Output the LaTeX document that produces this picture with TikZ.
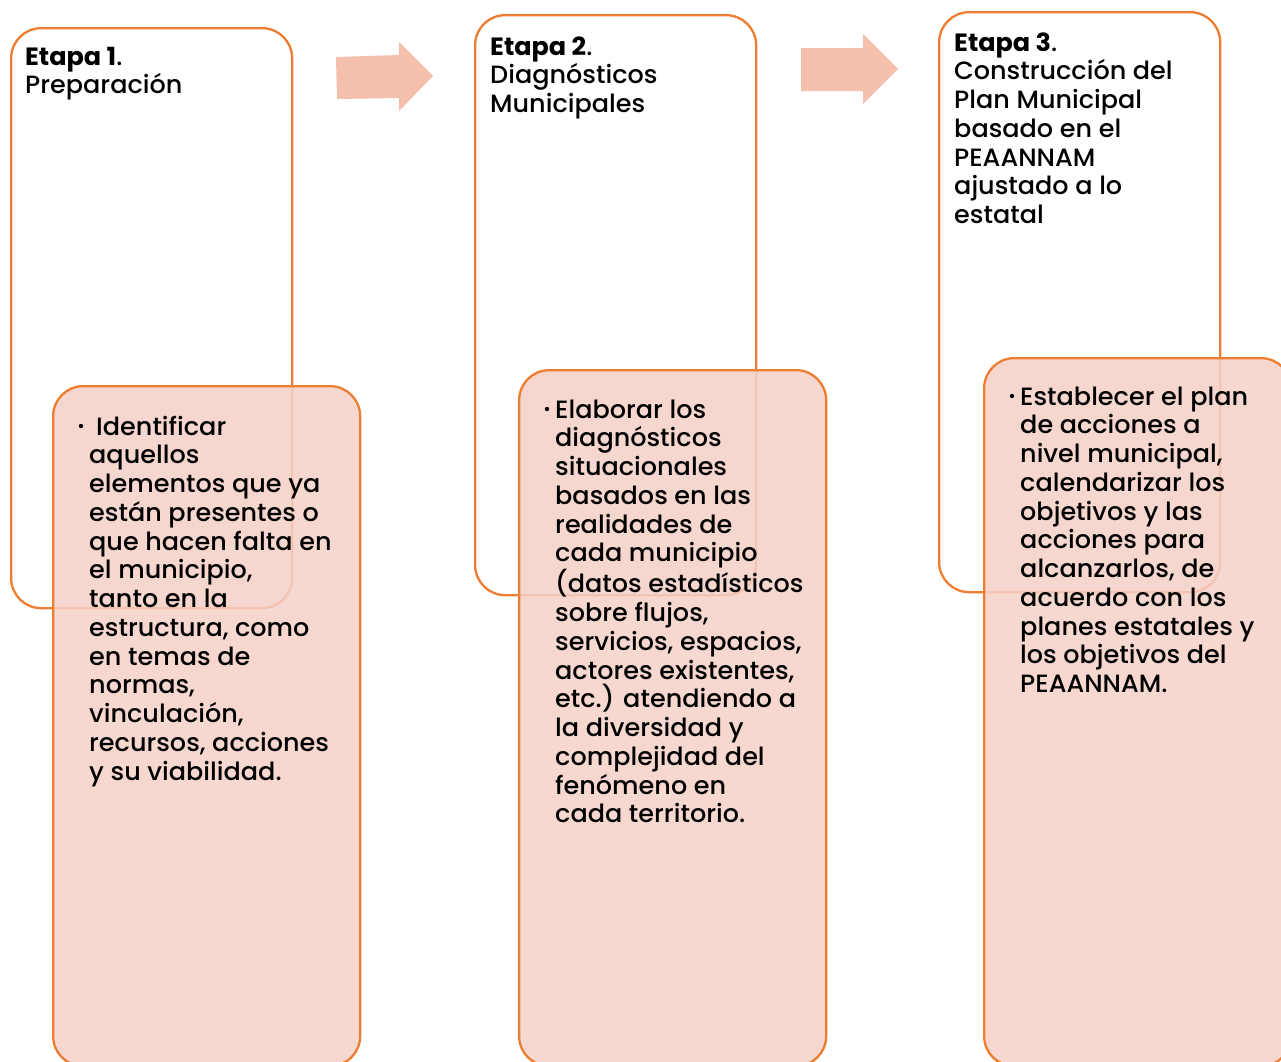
\documentclass[tikz,border=0pt]{standalone}
\usepackage{fontspec}
\setmainfont{Poppins}[UprightFont=* Medium, BoldFont=* Bold, FakeStretch=1.02]
\definecolor{edgeorange}{HTML}{ED7D31}
\definecolor{pinkfill}{HTML}{F5D1C8}
\definecolor{arrowpink}{HTML}{F4BFAD}
\newcommand{\bul}{\llap{\raisebox{7pt}{\tikz\fill (0,0) circle (2.2pt);}\hspace{6pt}}}
\begin{document}
\begin{tikzpicture}[x=1pt,y=-1pt,
  stagebox/.style={draw=edgeorange, line width=2.3pt, rounded corners=30pt, fill=white, anchor=north west, inner sep=0pt, minimum width=281pt, minimum height=580pt},
  taskbox/.style={draw=edgeorange, line width=2.3pt, rounded corners=30pt, fill=pinkfill, fill opacity=0.85, anchor=north west, inner sep=0pt, minimum width=307pt},
  txt/.style={anchor=north west, inner sep=0pt, align=left, font=\fontsize{25}{28.75}\selectfont, text=black}]
\useasboundingbox (0,0) rectangle (1281,1061);
\clip (0,0) rectangle (1281,1061);
% stage boxes
\node[stagebox] (s1) at (10,27) {};
\node[stagebox] (s2) at (474,14) {};
\node[stagebox] (s3) at (938,11) {};
% arrows
\fill[arrowpink] (336,57) -- (399,55) -- (399,42) -- (433,76) -- (399,111) -- (399,98) -- (337,99) -- cycle;
\fill[arrowpink] (801,48) -- (863,48) -- (863,34) -- (898,69) -- (863,104) -- (863,91) -- (801,91) -- cycle;
% task boxes
\node[taskbox, minimum height=680pt] (p1) at (52,385) {};
\node[taskbox, minimum height=696pt] (p2) at (518,369) {};
\node[taskbox, minimum height=708pt] (p3) at (983,357) {};
% titles
\node[txt] (t1) at (25,45) {\rule{0pt}{20pt}\textbf{Etapa 1}.\\Preparación};
\node[txt] (t2) at (490,35) {\rule{0pt}{20pt}\textbf{Etapa 2}.\\Diagnósticos\\Municipales};
\node[txt] (t3) at (954,31) {\rule{0pt}{20pt}\textbf{Etapa 3}.\\Construcción del\\Plan Municipal\\basado en el\\PEAANNAM\\ajustado a lo\\estatal};
% task texts
\node[txt] (x1) at (89,415) {\rule{0pt}{20pt}\bul\hspace{7pt}Identificar\\aquellos\\elementos que ya\\están presentes o\\que hacen falta en\\el municipio,\\tanto en la\\estructura, como\\en temas de\\normas,\\vinculación,\\recursos, acciones\\y su viabilidad.};
\node[txt] (x2) at (555,398) {\rule{0pt}{20pt}\bul Elaborar los\\diagnósticos\\situacionales\\basados en las\\realidades de\\cada municipio\\(datos estadísticos\\sobre flujos,\\servicios, espacios,\\actores existentes,\\etc.) atendiendo a\\la diversidad y\\complejidad del\\fenómeno en\\cada territorio.};
\node[txt] (x3) at (1020,385) {\rule{0pt}{20pt}\bul Establecer el plan\\de acciones a\\nivel municipal,\\calendarizar los\\objetivos y las\\acciones para\\alcanzarlos, de\\acuerdo con los\\planes estatales y\\los objetivos del\\PEAANNAM.};
\end{tikzpicture}
\end{document}
